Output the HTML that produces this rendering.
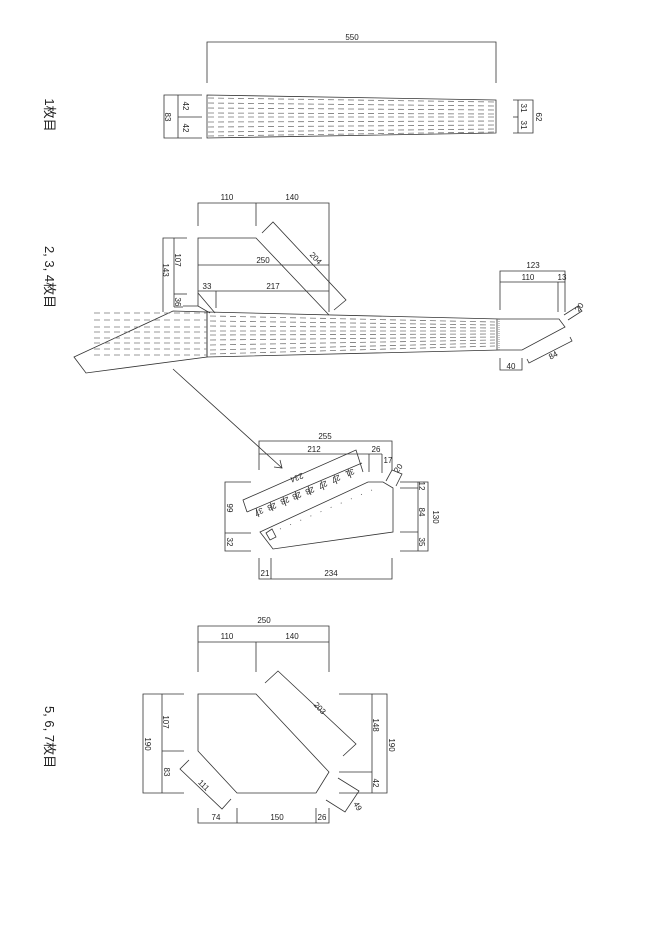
<!DOCTYPE html>
<html><head><meta charset="utf-8"><style>
html,body{margin:0;padding:0;background:#fff;}
svg{display:block;}
text{font-family:"Liberation Sans","Noto Sans CJK JP",sans-serif;font-size:8px;fill:#222;}
.t{font-size:13px;}
</style></head><body>
<svg width="660" height="933" viewBox="0 0 660 933" xmlns="http://www.w3.org/2000/svg">
<g stroke="#333" stroke-width="0.8" fill="none">
<!-- Section 1 -->
<polyline points="207,83 207,42 496,42 496,83"/>
<polygon points="207,95 496,100 496,133 207,138"/>
<polyline points="202,95 164,95 164,138 202,138"/>
<line x1="178" y1="95" x2="178" y2="138"/><line x1="178" y1="117" x2="202" y2="117"/>
<polyline points="513,100 533,100 533,133 513,133"/>
<line x1="518" y1="100" x2="518" y2="133"/><line x1="513" y1="117" x2="518" y2="117"/>
<g stroke="#777" stroke-dasharray="6,4">
<line x1="208" y1="98" x2="496" y2="102"/><line x1="208" y1="103" x2="496" y2="106"/>
<line x1="208" y1="108" x2="496" y2="110"/><line x1="208" y1="113" x2="496" y2="114"/>
<line x1="208" y1="117" x2="496" y2="117"/><line x1="208" y1="122" x2="496" y2="121"/>
<line x1="208" y1="127" x2="496" y2="125"/><line x1="208" y1="132" x2="496" y2="129"/>
<line x1="208" y1="136" x2="496" y2="132"/>
</g>
<!-- Section 2 top -->
<polyline points="198,226 198,203 329,203 329,312"/>
<line x1="256" y1="203" x2="256" y2="226"/>
<polyline points="198,306 198,238 256,238 329,315"/>
<line x1="198" y1="265" x2="329" y2="265"/>
<line x1="198" y1="291" x2="329" y2="291"/>
<line x1="216" y1="291" x2="216" y2="308"/>
<line x1="198" y1="293" x2="215" y2="313"/>
<polyline points="183,306 198,306 210,313"/>
<polyline points="262,233 273,222 346,300 334,310"/>
<polyline points="187,238 163,238 163,312"/>
<line x1="174" y1="238" x2="174" y2="307"/>
<line x1="174" y1="294" x2="187" y2="294"/>
<line x1="174" y1="307" x2="183" y2="307"/>
<!-- main strip -->
<polyline points="207,312 500,319 559,319 565,327 522,350 500,350 207,357 207,312"/>
<line x1="497" y1="319" x2="497" y2="350"/>
<g stroke="#777" stroke-dasharray="1,1"><line x1="499" y1="319" x2="499" y2="350"/></g>
<polygon points="74,357 173,311 207,312 207,357 86,373"/>
<g stroke="#777" stroke-dasharray="6,4">
<line x1="94" y1="313" x2="207" y2="313"/><line x1="94" y1="320" x2="207" y2="320"/>
<line x1="94" y1="327" x2="207" y2="327"/><line x1="94" y1="332" x2="207" y2="332"/>
<line x1="94" y1="338" x2="207" y2="338"/><line x1="94" y1="343" x2="207" y2="343"/>
<line x1="94" y1="349" x2="207" y2="349"/><line x1="94" y1="355" x2="207" y2="355"/>
<line x1="210" y1="316" x2="495" y2="322"/><line x1="210" y1="321" x2="495" y2="325"/>
<line x1="210" y1="326" x2="495" y2="328"/><line x1="210" y1="331" x2="495" y2="331"/>
<line x1="210" y1="335" x2="495" y2="334"/><line x1="210" y1="340" x2="495" y2="337"/>
<line x1="210" y1="345" x2="495" y2="340"/><line x1="210" y1="350" x2="495" y2="343"/>
<line x1="210" y1="354" x2="495" y2="346"/>
</g>
<polyline points="500,310 500,271 565,271 565,312"/>
<line x1="500" y1="282" x2="565" y2="282"/><line x1="558" y1="282" x2="558" y2="312"/>
<polyline points="564,315 578,306 582,311 568,320"/>
<polyline points="570,337 572,341 529,363 527,359"/>
<polyline points="500,358 500,370 522,370 522,358"/>
<!-- arrow -->
<line x1="173" y1="369" x2="282" y2="468"/>
<polyline points="274,467 282,468 280,460"/>
<!-- Section 2 middle -->
<polyline points="259,470 259,441 392,441 392,470"/>
<line x1="259" y1="454" x2="382" y2="454"/>
<line x1="369" y1="454" x2="369" y2="472"/><line x1="382" y1="454" x2="382" y2="473"/>
<polygon points="260,532 368,482 383,482 393,488 393,532 273,549"/>
<polyline points="386,481 392,470 402,474 396,486"/>
<polyline points="247,512 243,500 356,450 363,472"/>
<line x1="247" y1="512" x2="362" y2="463"/>
<g>
<line x1="256" y1="508" x2="259" y2="517"/><line x1="270" y1="502" x2="273" y2="511"/>
<line x1="283" y1="497" x2="286" y2="506"/><line x1="295" y1="491" x2="298" y2="500"/>
<line x1="308" y1="486" x2="311" y2="495"/><line x1="321" y1="481" x2="324" y2="490"/>
<line x1="334" y1="475" x2="337" y2="484"/><line x1="348" y1="469" x2="351" y2="478"/>
</g>
<polygon points="266,533 272,529 276,537 270,540"/>
<g stroke="#555" stroke-dasharray="1,10"><line x1="280" y1="529" x2="372" y2="490"/></g>
<polyline points="251,482 225,482 225,551 251,551"/>
<line x1="225" y1="533" x2="251" y2="533"/>
<polyline points="400,482 428,482 428,551 400,551"/>
<line x1="418" y1="482" x2="418" y2="551"/>
<line x1="400" y1="488" x2="418" y2="488"/><line x1="400" y1="532" x2="418" y2="532"/>
<polyline points="259,558 259,579 392,579 392,558"/>
<line x1="271" y1="558" x2="271" y2="579"/>
<!-- Section 3 -->
<polyline points="198,672 198,626 329,626 329,672"/>
<line x1="198" y1="642" x2="329" y2="642"/><line x1="256" y1="642" x2="256" y2="672"/>
<polygon points="198,694 256,694 329,772 316,793 237,793 198,751"/>
<polyline points="184,694 143,694 143,793 184,793"/>
<line x1="162" y1="694" x2="162" y2="793"/><line x1="162" y1="751" x2="184" y2="751"/>
<polyline points="339,694 387,694 387,793 339,793"/>
<line x1="372" y1="694" x2="372" y2="793"/><line x1="339" y1="772" x2="372" y2="772"/>
<polyline points="265,683 278,671 356,744 343,756"/>
<polyline points="189,760 180,769 222,809 231,799"/>
<polyline points="338,778 359,791 345,812 326,800"/>
<polyline points="198,808 198,823 329,823 329,808"/>
<line x1="237" y1="808" x2="237" y2="823"/><line x1="316" y1="808" x2="316" y2="823"/>
</g>
<!-- Labels -->
<g text-anchor="middle">
<text x="352" y="40">550</text>
<text transform="translate(168,117) rotate(90)" y="3">83</text>
<text transform="translate(186,106) rotate(90)" y="3">42</text>
<text transform="translate(186,128) rotate(90)" y="3">42</text>
<text transform="translate(524,108) rotate(90)" y="3">31</text>
<text transform="translate(524,125) rotate(90)" y="3">31</text>
<text transform="translate(539,117) rotate(90)" y="3">62</text>
<text x="227" y="200">110</text><text x="292" y="200">140</text>
<text x="263" y="263">250</text><text x="207" y="289">33</text><text x="273" y="289">217</text>
<text transform="translate(316,258) rotate(47)" y="3">204</text>
<text transform="translate(166,270) rotate(90)" y="3">143</text>
<text transform="translate(178,260) rotate(90)" y="3">107</text>
<text transform="translate(178,302) rotate(90)" y="3">36</text>
<text x="533" y="268">123</text><text x="528" y="280">110</text><text x="562" y="280">13</text>
<text transform="translate(579,307) rotate(-55)" y="3">20</text>
<text transform="translate(553,355) rotate(-28)" y="3">84</text>
<text x="511" y="369">40</text>
<text x="325" y="439">255</text><text x="314" y="452">212</text><text x="376" y="452">26</text>
<text x="388" y="463">17</text>
<text transform="translate(398,468) rotate(-55)" y="3">20</text>
<text transform="translate(297,478) rotate(158)" y="3">234</text>
<text transform="translate(259,512) rotate(158)" y="3">37</text>
<text transform="translate(272,507) rotate(158)" y="3">28</text>
<text transform="translate(285,501) rotate(158)" y="3">28</text>
<text transform="translate(297,496) rotate(158)" y="3">28</text>
<text transform="translate(310,491) rotate(158)" y="3">28</text>
<text transform="translate(323,485) rotate(158)" y="3">27</text>
<text transform="translate(336,479) rotate(158)" y="3">27</text>
<text transform="translate(350,473) rotate(158)" y="3">31</text>
<text transform="translate(230,508) rotate(90)" y="3">99</text>
<text transform="translate(230,542) rotate(90)" y="3">32</text>
<text transform="translate(422,486) rotate(90)" y="3">12</text>
<text transform="translate(422,512) rotate(90)" y="3">84</text>
<text transform="translate(422,542) rotate(90)" y="3">35</text>
<text transform="translate(436,517) rotate(90)" y="3">130</text>
<text x="265" y="576">21</text><text x="331" y="576">234</text>
<text x="264" y="623">250</text><text x="227" y="639">110</text><text x="292" y="639">140</text>
<text transform="translate(320,708) rotate(47)" y="3">203</text>
<text transform="translate(166,722) rotate(90)" y="3">107</text>
<text transform="translate(148,744) rotate(90)" y="3">190</text>
<text transform="translate(167,772) rotate(90)" y="3">83</text>
<text transform="translate(376,725) rotate(90)" y="3">148</text>
<text transform="translate(392,745) rotate(90)" y="3">190</text>
<text transform="translate(376,783) rotate(90)" y="3">42</text>
<text transform="translate(204,785) rotate(45)" y="3">111</text>
<text transform="translate(358,806) rotate(60)" y="3">49</text>
<text x="216" y="820">74</text><text x="277" y="820">150</text><text x="322" y="820">26</text>
</g>
<g text-anchor="middle" class="t">
<text class="t" transform="translate(50,115) rotate(90)" y="5">1枚目</text>
<text class="t" transform="translate(50,277) rotate(90)" y="5">2, 3, 4枚目</text>
<text class="t" transform="translate(50,737) rotate(90)" y="5">5, 6, 7枚目</text>
</g>
</svg>
</body></html>
